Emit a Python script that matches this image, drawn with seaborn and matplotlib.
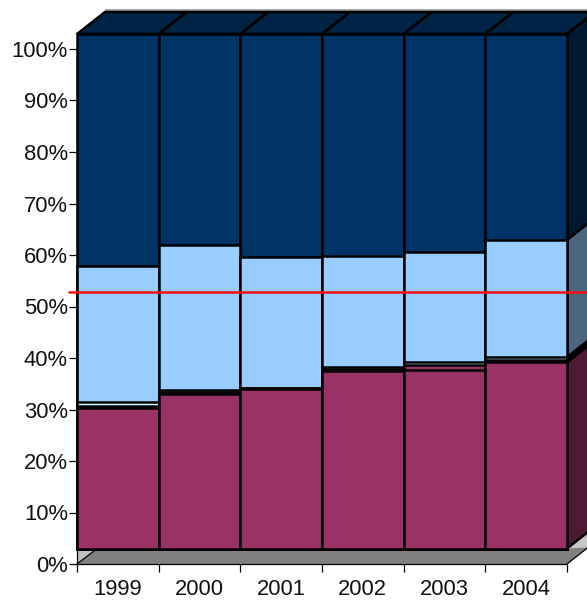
import numpy as np
import matplotlib
matplotlib.use("Agg")
import matplotlib.pyplot as plt
from matplotlib.patches import Polygon
import seaborn as sns

years = ["1999", "2000", "2001", "2002", "2003", "2004"]
maroon = [27.3, 30.0, 31.0, 34.5, 34.7, 36.2]
sliver = [0.4, 0.4, 0.1, 0.4, 0.9, 0.5]
pale = [0.8, 0.4, 0.0, 0.4, 0.6, 0.5]
blue = [26.4, 28.2, 25.6, 21.6, 21.4, 22.8]
navy = [45.1, 41.0, 43.3, 43.1, 42.4, 40.0]
ref_line = 52.8
pct_ticks = list(range(0, 101, 10))

W, H = 587, 600
sns.set_style("white")
plt.rcParams["font.family"] = ["Liberation Sans", "DejaVu Sans"]
fig = plt.figure(figsize=(W / 100, H / 100), dpi=100)

def axes_px(x0, x1, ytop, ybot):
    return fig.add_axes([x0 / W, 1 - ybot / H, (x1 - x0) / W, (ybot - ytop) / H])

L, R = 77, 567
front = axes_px(L, R, 34, 548.5)
main = axes_px(L, R, 49, 564)

series = [maroon, sliver, pale, blue, navy]
colors = ["#993366", "#993366", "#CCFFFF", "#99CCFF", "#003366"]
side_cols = ["#4D1A33", "#4D1A33", "#667F7F", "#4D6680", "#001933"]
cum = np.cumsum(np.array(series), axis=0)
LW = 1.8

# stacked faces: tallest first
for k in range(len(series) - 1, -1, -1):
    sns.barplot(x=years, y=cum[k], order=years, color=colors[k], width=1, saturation=1,
                edgecolor="black", linewidth=LW, clip_on=False, zorder=5, ax=front)
front.set_xlim(-0.5, 5.5)
front.set_ylim(0, 100)
front.axis("off")

DX = 28 / (490 / 6)
DY = 22 / 5.145
FY = -15.5 / 5.145
xl, xr = -0.5, 5.5


def poly(pts, fc, ec="none", lw=0, z=1):
    front.add_patch(Polygon(pts, closed=True, facecolor=fc, edgecolor=ec, linewidth=lw,
                            zorder=z, clip_on=False, joinstyle="miter"))

# back wall and floor
poly([(xl + DX, FY + DY), (xl + DX, 100 + DY + 0.5), (xr + DX, 100 + DY + 0.5),
      (xr + DX, FY + DY)], "#A8A8A8", z=1)
poly([(xl, FY), (xr, FY), (xr + DX, FY + DY), (xl + DX, FY + DY)], "#808080", z=1.5)
poly([(xl, 0), (xr, 0), (xr, FY), (xl, FY)], "#808080", z=1.6)
poly([(xl, FY), (xl + DX * 0.72, 0), (xl, 0)], "#C0C0C0", z=1.7)
poly([(xr, 0), (xr + DX, DY), (xr + DX, FY + DY + 1.2), (xr + DX * 0.72, 0.2)], "#C8C8C8", z=1.7)
front.plot([xl, xl + DX * 0.72], [FY, 0], color="black", lw=0.9, zorder=1.8, clip_on=False)
front.plot([xr, xr + DX], [FY, FY + DY], color="black", lw=0.9, zorder=1.8, clip_on=False)

# top faces
for i in range(len(years)):
    a, b = i - 0.5, i + 0.5
    poly([(a, 100), (b, 100), (b + DX, 100 + DY), (a + DX, 100 + DY)], "#002244", "black", LW, 3)

# right-hand side faces
last = np.vstack([np.zeros(6), cum])[:, -1]
for k in range(len(series)):
    poly([(xr, last[k]), (xr + DX, last[k] + DY), (xr + DX, last[k + 1] + DY), (xr, last[k + 1])],
         side_cols[k], "black", LW, 3)

# axis layer
main.set_zorder(5)
main.patch.set_visible(False)
main.set_xlim(-0.5, 5.5)
main.set_ylim(0, 100)
main.set_yticks(pct_ticks)
main.set_yticklabels([f"{p}%" for p in pct_ticks])
main.set_xticks(np.arange(-0.5, 6, 1))
main.set_xticklabels([])
main.set_xticks(np.arange(6), labels=years, minor=True)
main.tick_params(axis="both", which="major", length=6, width=0.9, color="black", bottom=True, left=True)
main.tick_params(axis="x", which="minor", length=0, bottom=True, labelsize=15.8, pad=10.5, labelcolor="#111111")
main.tick_params(axis="y", labelsize=15.8, pad=0.5, labelcolor="#111111")
for s in ["top", "right"]:
    main.spines[s].set_visible(False)
for s in ["left", "bottom"]:
    main.spines[s].set_linewidth(0.9)
    main.spines[s].set_color("black")
main.axhline(ref_line, xmin=-8 / 490, xmax=1.05, color="#F01010", lw=1.8, clip_on=False, zorder=10)

fig.savefig("out.png", dpi=100)
